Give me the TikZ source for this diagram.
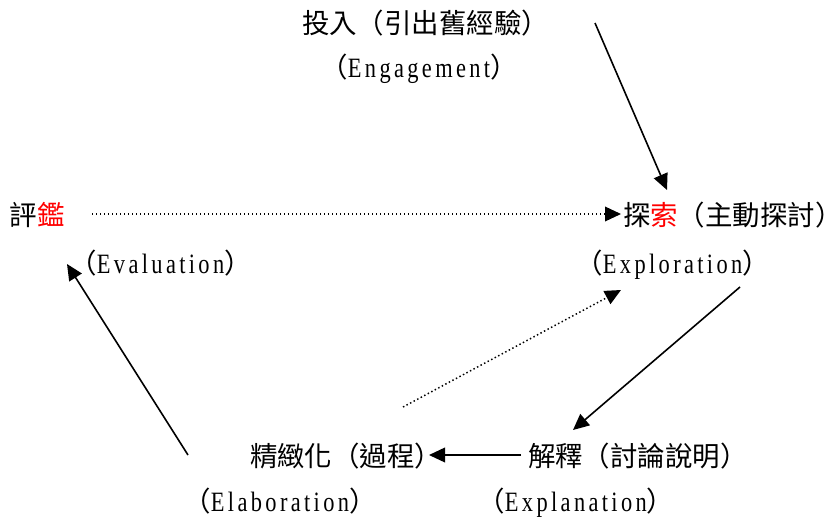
\documentclass[tikz,border=0pt]{standalone}
\usepackage{fontspec}
\usetikzlibrary{arrows.meta}
\newfontfamily\cjk{Noto Sans CJK TC}
\newfontfamily\lat{Liberation Serif}[FakeStretch=0.8,LetterSpace=12]
\tikzset{
  lbl/.style={anchor=base west, inner sep=0pt, outer sep=0pt, font=\cjk\fontsize{20.6pt}{22pt}\selectfont},
  solidarrow/.style={line width=1.2pt, -{Triangle[length=12pt,width=11pt]}},
  dotarrow/.style={line width=1.1pt, dash pattern=on 1.1pt off 1.9pt, -{Triangle[length=12pt,width=11pt]}},
}
\newcommand{\en}[1]{{\lat\fontsize{21pt}{22pt}\selectfont #1}}
\definecolor{accent}{RGB}{255,0,0}
\begin{document}
\begin{tikzpicture}[x=0.75pt,y=-0.75pt]
\useasboundingbox (0,0) rectangle (829,521);
% labels
\node[lbl] (eng) at (302,33.5) {投入（引出舊經驗）};
\node[lbl] (engE) at (320.5,77) {（\en{Engagement}）};
\node[lbl] (eva) at (10,225) {評\textcolor{accent}{鑑}};
\node[lbl] (evaE) at (69.5,273) {（\en{Evaluation}）};
\node[lbl] (exp) at (623,225) {探\textcolor{accent}{索}（主動探討）};
\node[lbl] (expE) at (575.5,273) {（\en{Exploration}）};
\node[lbl] (ela) at (250,466) {精緻化（過程）};
\node[lbl] (elaE) at (183.5,511) {（\en{Elaboration}）};
\node[lbl] (expl) at (528,466) {解釋（討論說明）};
\node[lbl] (explE) at (477.5,511) {（\en{Explanation}）};
% connector ends
\coordinate (a1s) at (595,23);
\coordinate (a1e) at (667,190);
\coordinate (a2s) at (92,214);
\coordinate (a2e) at (621,214);
\coordinate (a3s) at (740,287);
\coordinate (a3e) at (573,430);
\coordinate (a4s) at (521,455);
\coordinate (a4e) at (429,455);
\coordinate (a5s) at (403,407);
\coordinate (a5e) at (621,290);
\coordinate (a6s) at (188,455);
\coordinate (a6e) at (67,264);
% connectors
\draw[solidarrow] (a1s) -- (a1e);
\draw[dotarrow] (a2s) -- (a2e);
\draw[solidarrow] (a3s) -- (a3e);
\draw[solidarrow] (a4s) -- (a4e);
\draw[dotarrow] (a5s) -- (a5e);
\draw[solidarrow] (a6s) -- (a6e);
\end{tikzpicture}
\end{document}
